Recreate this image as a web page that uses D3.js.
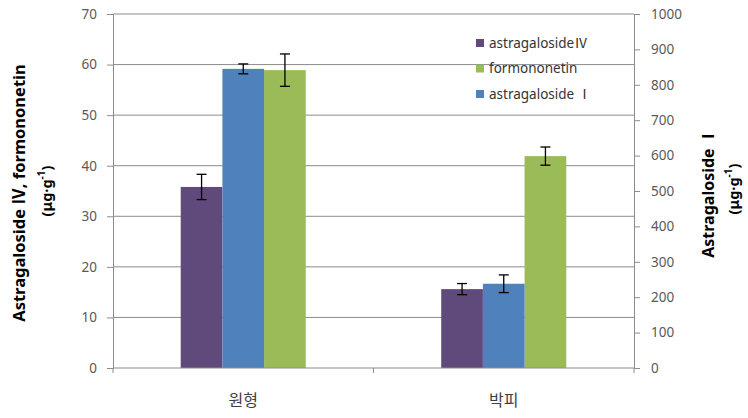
<!DOCTYPE html>
<html lang="ko">
  <head>
    <meta charset="UTF-8" />
    <title>astragaloside chart</title>
    <script src="https://d3js.org/d3.v7.min.js" charset="utf-8"></script>
    <style>
      body { margin: 0; background: #fff; }
      text { font-family: "Noto Sans", "Noto Sans CJK KR", sans-serif; }
    </style>
  </head>
  <body>
    <svg class="chart"></svg>
    <script>
      // data
      let categories = ["원형", "박피"];
      let astragalosideIV = [35.8, 15.6];
      let astragalosideIVErr = [2.5, 1.1];
      let formononetin = [58.9, 41.9];
      let formononetinErr = [3.2, 1.8];
      let astragalosideI = [845, 238];
      let astragalosideIErr = [14, 25];
      let leftTicks = [0, 10, 20, 30, 40, 50, 60, 70];
      let rightTicks = [0, 100, 200, 300, 400, 500, 600, 700, 800, 900, 1000];

      let width = 748;
      let height = 418;
      let plotLeft = 113, plotRight = 634, plotTop = 14, plotBottom = 368;

      let svg = d3.select(".chart").attr("width", width).attr("height", height);

      let yLeft = d3.scaleLinear().domain([0, 70]).range([plotBottom, plotTop]);
      let yRight = d3.scaleLinear().domain([0, 1000]).range([plotBottom, plotTop]);
      let x0 = d3.scaleBand().domain(categories).range([plotLeft, plotRight]);
      let seriesKeys = ["iv", "i", "form"];
      let x1 = d3.scaleBand().domain(seriesKeys).range([0, x0.bandwidth()]).paddingOuter(1.625);

      let series = [
        { key: "iv", name: "astragalosideⅣ", color: "#604a7b", values: astragalosideIV, errs: astragalosideIVErr, y: yLeft },
        { key: "form", name: "formononetin", color: "#9bbb59", values: formononetin, errs: formononetinErr, y: yLeft },
        { key: "i", name: "astragaloside Ⅰ", color: "#4f81bd", values: astragalosideI, errs: astragalosideIErr, y: yRight }
      ];

      // gridlines
      svg.append("g")
        .selectAll("line")
        .data(leftTicks.slice(1))
        .enter()
        .append("line")
        .attr("x1", plotLeft).attr("x2", plotRight)
        .attr("y1", d => yLeft(d)).attr("y2", d => yLeft(d))
        .style("stroke", "#8c8c8c").style("stroke-width", 1);

      // bars
      let bars = [];
      series.forEach(s => {
        categories.forEach((c, i) => {
          bars.push({ s: s, c: c, v: s.values[i], e: s.errs[i] });
        });
      });

      svg.append("g")
        .selectAll("rect")
        .data(bars)
        .enter()
        .append("rect")
        .attr("x", d => x0(d.c) + x1(d.s.key))
        .attr("width", x1.bandwidth())
        .attr("y", d => d.s.y(d.v))
        .attr("height", d => plotBottom - d.s.y(d.v))
        .style("fill", d => d.s.color);

      // error bars
      let err = svg.append("g").selectAll("g").data(bars).enter().append("g")
        .style("stroke", "#000").style("stroke-width", 1.3);
      let cx = d => x0(d.c) + x1(d.s.key) + x1.bandwidth() / 2;
      err.append("line")
        .attr("x1", cx).attr("x2", cx)
        .attr("y1", d => d.s.y(d.v + d.e)).attr("y2", d => d.s.y(d.v - d.e));
      err.append("line")
        .attr("x1", d => cx(d) - 5).attr("x2", d => cx(d) + 5)
        .attr("y1", d => d.s.y(d.v + d.e)).attr("y2", d => d.s.y(d.v + d.e));
      err.append("line")
        .attr("x1", d => cx(d) - 5).attr("x2", d => cx(d) + 5)
        .attr("y1", d => d.s.y(d.v - d.e)).attr("y2", d => d.s.y(d.v - d.e));

      // axes
      let axisLeft = d3.axisLeft(yLeft).tickValues(leftTicks).tickSize(6).tickPadding(10);
      let axisRight = d3.axisRight(yRight).tickValues(rightTicks).tickFormat(d3.format("d"))
        .tickSize(6).tickPadding(11);
      let axisBottom = d3.axisBottom(x0).tickSize(0).tickPadding(27);

      function styleAxis(g) {
        g.select(".domain").style("stroke", "#8c8c8c");
        g.selectAll(".tick line").style("stroke", "#8c8c8c");
        g.selectAll(".tick text").style("fill", "#595959").style("font-size", "13.5px")
          .style("font-family", "'Noto Sans', sans-serif");
      }

      svg.append("g").attr("transform", "translate(" + plotLeft + ",0)").call(axisLeft).call(styleAxis);
      svg.append("g").attr("transform", "translate(" + plotRight + ",0)").call(axisRight).call(styleAxis);
      let xg = svg.append("g").attr("transform", "translate(0," + plotBottom + ")").call(axisBottom).call(styleAxis);
      xg.select(".domain").remove();
      xg.selectAll(".tick text").style("font-size", "16px").style("fill", "#404040")
        .style("font-family", "'Noto Sans CJK KR', sans-serif");
      xg.append("line").attr("x1", plotLeft).attr("x2", plotRight).attr("y1", 0).attr("y2", 0).style("stroke", "#8c8c8c");
      // category boundary ticks
      xg.selectAll(".sep")
        .data([plotLeft, x0(categories[1]), plotRight])
        .enter()
        .append("line")
        .attr("x1", d => d).attr("x2", d => d)
        .attr("y1", 0).attr("y2", 5)
        .style("stroke", "#8c8c8c");

      // axis titles
      function unitText(sel) {
        sel.append("tspan").text("(μg·g");
        sel.append("tspan").attr("baseline-shift", "super").style("font-size", "10px").text("-1");
        sel.append("tspan").text(")");
      }

      let lt = svg.append("g").attr("transform", "translate(25,193) rotate(-90)")
        .style("font-weight", "bold").style("font-size", "16.5px").style("fill", "#000")
        .attr("text-anchor", "middle");
      lt.append("text").attr("y", 0).text("Astragaloside Ⅳ, formononetin");
      lt.append("text").attr("x", 2).attr("y", 27).style("font-size", "14.5px").call(unitText);

      let rt = svg.append("g").attr("transform", "translate(714,193) rotate(-90)")
        .style("font-weight", "bold").style("font-size", "16px").style("fill", "#000")
        .attr("text-anchor", "middle");
      rt.append("text").attr("y", 0).text("Astragaloside Ⅰ");
      rt.append("text").attr("x", 4).attr("y", 25).style("font-size", "14.5px").call(unitText);

      // legend
      let legend = svg.append("g").attr("transform", "translate(476,43)");
      let item = legend.selectAll("g").data(series).enter().append("g")
        .attr("transform", (d, i) => "translate(0," + i * 25.5 + ")");
      item.append("rect").attr("x", 0).attr("y", -4).attr("width", 8).attr("height", 8)
        .style("fill", d => d.color);
      item.append("text").attr("x", 13).attr("dy", "0.35em")
        .style("font-size", "13.5px").style("fill", "#333")
        .text(d => d.name);
    </script>
  </body>
</html>
